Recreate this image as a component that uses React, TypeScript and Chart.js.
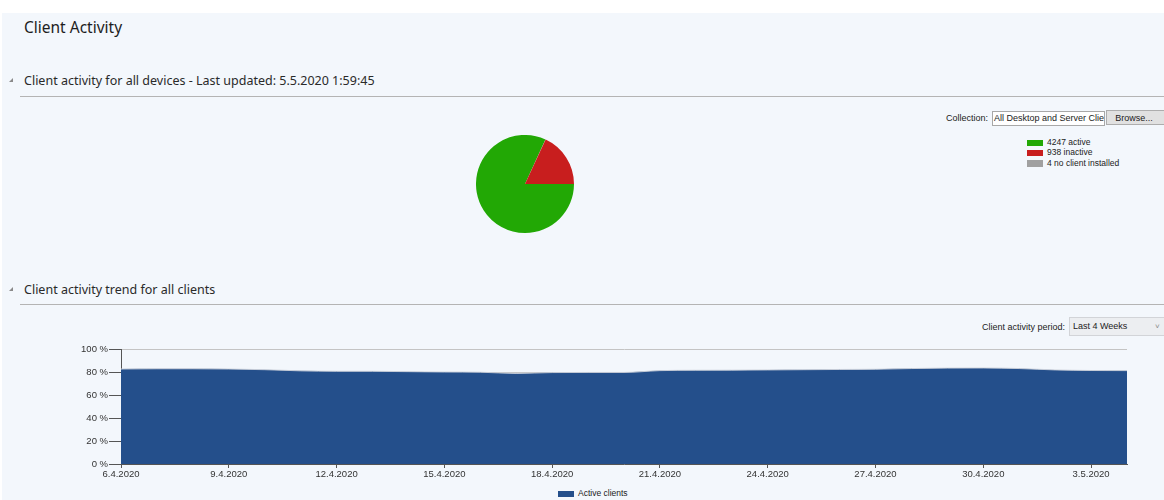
import React, { useEffect, useRef } from "react";
import { Chart, registerables } from "chart.js";

Chart.register(...registerables);

// ---- Data ----
const pieLabels = ["4247 active", "4 no client installed", "938 inactive"];
const pieValues = [4247, 4, 938];
const pieColors = ["#22a805", "#a0a0a0", "#c81e1e"];

const legendItems = ["4247 active", "938 inactive", "4 no client installed"];
const legendColors = ["#22a805", "#c81e1e", "#a0a0a0"];

const trendDates = [
  "6.4.2020", "7.4.2020", "8.4.2020", "9.4.2020", "10.4.2020", "11.4.2020", "12.4.2020",
  "13.4.2020", "14.4.2020", "15.4.2020", "16.4.2020", "17.4.2020", "18.4.2020", "19.4.2020",
  "20.4.2020", "21.4.2020", "22.4.2020", "23.4.2020", "24.4.2020", "25.4.2020", "26.4.2020",
  "27.4.2020", "28.4.2020", "29.4.2020", "30.4.2020", "1.5.2020", "2.5.2020", "3.5.2020", "4.5.2020",
];
const activePercent = [
  82.6, 82.8, 82.8, 82.6, 82.0, 81.0, 80.6,
  80.6, 80.3, 80.0, 79.8, 78.8, 79.5, 79.6,
  79.6, 81.2, 81.5, 81.6, 81.8, 82.0, 82.2,
  82.4, 83.0, 83.4, 83.5, 83.0, 81.8, 81.3, 81.2,
];
const yTicks = [0, 20, 40, 60, 80, 100];

const UI_FONT = "'Noto Sans', 'Open Sans', sans-serif";
const SMALL_FONT = "'Liberation Sans', Arial, sans-serif";

function PieChart() {
  const ref = useRef<HTMLCanvasElement>(null);
  useEffect(() => {
    const chart = new Chart(ref.current!, {
      type: "pie",
      data: {
        labels: pieLabels,
        datasets: [{ data: pieValues, backgroundColor: pieColors, borderWidth: 0 }],
      },
      options: {
        animation: false,
        responsive: true,
        maintainAspectRatio: false,
        rotation: 90,
        plugins: { legend: { display: false }, tooltip: { enabled: false } },
      },
    });
    return () => chart.destroy();
  }, []);
  return <canvas ref={ref} />;
}

function TrendChart() {
  const ref = useRef<HTMLCanvasElement>(null);
  useEffect(() => {
    const chart = new Chart(ref.current!, {
      type: "line",
      data: {
        labels: trendDates,
        datasets: [
          {
            label: "Active clients",
            data: activePercent,
            fill: "origin",
            backgroundColor: "#244f8b",
            borderColor: "rgba(205,210,218,0.9)",
            borderWidth: 1,
            pointRadius: 0,
            cubicInterpolationMode: "monotone",
          },
        ],
      },
      options: {
        animation: false,
        responsive: true,
        maintainAspectRatio: false,
        layout: { padding: { top: 14, right: 37, left: 0, bottom: 0 } },
        plugins: { legend: { display: false }, tooltip: { enabled: false } },
        scales: {
          x: {
            offset: false,
            border: { color: "#555555", width: 1 },
            grid: { drawOnChartArea: false, drawTicks: true, tickLength: 4, tickColor: "#555555" },
            ticks: {
              autoSkip: false,
              maxRotation: 0,
              padding: 1,
              color: "#333333",
              font: { family: SMALL_FONT, size: 9.5 },
              callback: (_v: any, i: number) => (i % 3 === 0 ? trendDates[i] : null),
            },
            afterFit: (s: any) => {
              s.height = 21;
            },
          },
          y: {
            min: yTicks[0],
            max: yTicks[yTicks.length - 1],
            border: { color: "#555555", width: 1 },
            grid: { color: "#c4c4c4", tickColor: "#555555", tickLength: 12 },
            ticks: {
              stepSize: 20,
              padding: 1,
              color: "#333333",
              font: { family: SMALL_FONT, size: 9.5 },
              callback: (v: any) => v + " %",
            },
            afterFit: (s: any) => {
              s.width = 121;
            },
          },
        },
      },
    });
    return () => chart.destroy();
  }, []);
  return <canvas ref={ref} />;
}

const abs = (l: number, t: number, extra: React.CSSProperties = {}): React.CSSProperties => ({
  position: "absolute",
  left: l,
  top: t,
  ...extra,
});

function Triangle({ x, y }: { x: number; y: number }) {
  return (
    <div
      style={abs(x, y, {
        width: 0,
        height: 0,
        borderLeft: "4px solid transparent",
        borderBottom: "4px solid #8a8a8a",
      })}
    />
  );
}

export default function App() {
  return (
    <div
      style={{
        position: "fixed",
        left: 0,
        top: 0,
        width: 1164,
        height: 500,
        background: "#ffffff",
        overflow: "hidden",
      }}
    >
      <div style={abs(2, 13, { width: 1162, height: 487, background: "#f3f7fc" })} />

      {/* Title */}
      <div style={abs(24, 17, { fontFamily: UI_FONT, fontSize: 15.5, color: "#1e1e1e", lineHeight: "20px" })}>
        Client Activity
      </div>

      {/* Section 1 header */}
      <Triangle x={9} y={78} />
      <div style={abs(24, 72, { fontFamily: UI_FONT, fontSize: 12.5, color: "#2a2a2a", lineHeight: "17px" })}>
        Client activity for all devices - Last updated: 5.5.2020 1:59:45
      </div>
      <div style={abs(20, 96, { width: 1144, height: 1, background: "#b4b4b4" })} />

      {/* Collection row */}
      <div style={abs(946, 112, { fontFamily: SMALL_FONT, fontSize: 9, color: "#222", lineHeight: "12px" })}>
        Collection:
      </div>
      <div
        style={abs(992, 111, {
          width: 110,
          height: 13,
          background: "#ffffff",
          border: "1px solid #a8a8a8",
          fontFamily: SMALL_FONT,
          fontSize: 9,
          lineHeight: "13px",
          color: "#222",
          overflow: "hidden",
          whiteSpace: "nowrap",
          paddingLeft: 1,
          boxSizing: "content-box",
        })}
      >
        All Desktop and Server Clients
      </div>
      <div
        style={abs(1106, 110, {
          width: 60,
          height: 15,
          background: "#e1e1e1",
          border: "1px solid #adadad",
          fontFamily: SMALL_FONT,
          fontSize: 9,
          lineHeight: "15px",
          color: "#222",
          textAlign: "center",
          boxSizing: "border-box",
          paddingRight: 4,
        })}
      >
        Browse...
      </div>

      {/* Pie legend */}
      {legendItems.map((t, i) => (
        <React.Fragment key={t}>
          <div style={abs(1027, 139.5 + i * 10.3, { width: 16, height: 6.5, background: legendColors[i] })} />
          <div
            style={abs(1047, 137 + i * 10.3, {
              fontFamily: SMALL_FONT,
              fontSize: 8.5,
              lineHeight: "11px",
              color: "#222",
              whiteSpace: "nowrap",
            })}
          >
            {t}
          </div>
        </React.Fragment>
      ))}

      {/* Pie */}
      <div style={abs(476, 135, { width: 98, height: 98 })}>
        <PieChart />
      </div>

      {/* Section 2 header */}
      <Triangle x={9} y={287} />
      <div style={abs(24, 281, { fontFamily: UI_FONT, fontSize: 12.5, color: "#2a2a2a", lineHeight: "17px" })}>
        Client activity trend for all clients
      </div>
      <div style={abs(20, 304, { width: 1144, height: 1, background: "#b4b4b4" })} />

      {/* Period row */}
      <div style={abs(982, 321, { fontFamily: SMALL_FONT, fontSize: 9, color: "#222", lineHeight: "12px" })}>
        Client activity period:
      </div>
      <div
        style={abs(1069, 317, {
          width: 100,
          height: 19,
          background: "#eceef1",
          border: "1px solid #d2d4d8",
          boxSizing: "border-box",
          fontFamily: SMALL_FONT,
          fontSize: 9,
          lineHeight: "17px",
          color: "#222",
          paddingLeft: 3,
        })}
      >
        Last 4 Weeks
        <span style={{ position: "absolute", left: 85, top: 0, color: "#888", fontSize: 8 }}>˅</span>
      </div>

      {/* Trend chart */}
      <div style={abs(0, 335, { width: 1164, height: 150 })}>
        <TrendChart />
      </div>

      {/* Trend legend */}
      <div style={abs(558, 490.5, { width: 16, height: 6.5, background: "#244f8b" })} />
      <div
        style={abs(578, 488, {
          fontFamily: SMALL_FONT,
          fontSize: 8.5,
          lineHeight: "11px",
          color: "#222",
          whiteSpace: "nowrap",
        })}
      >
        Active clients
      </div>
    </div>
  );
}
